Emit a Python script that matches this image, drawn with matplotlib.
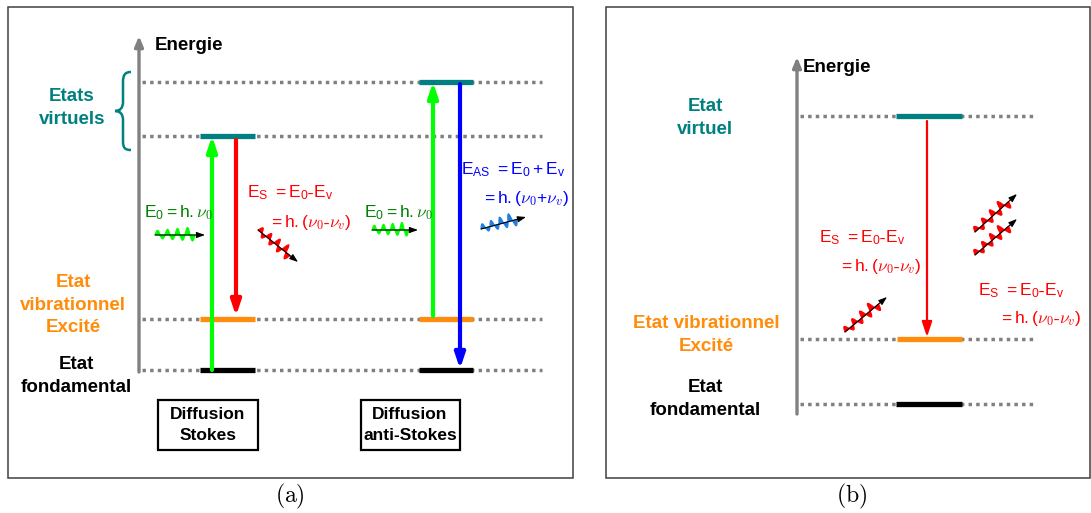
import numpy as np
import matplotlib
matplotlib.use("Agg")
import matplotlib.pyplot as plt
from matplotlib.path import Path
from matplotlib.patches import PathPatch, Rectangle, Polygon

plt.rcParams['mathtext.fontset'] = 'cm'

# ---------------- data (pixel layout of the diagram) ----------------
# panel (a)
a_levels_y = [82, 136, 319, 370]            # dotted level lines
a_level_x = (142, 542)
a_bars = [  # (x0, x1, y, color)
    (200, 255, 136, '#008080'), (419, 473, 82, '#008080'),
    (200, 255, 319, '#FF8C0A'), (419, 473, 319, '#FF8C0A'),
    (200, 255, 370, '#000000'), (419, 473, 370, '#000000'),
]
a_arrows = [  # (x, y_start, y_end, color)
    (212, 370, 136, '#00FF00'), (236, 140, 316, '#FF0000'),
    (433, 316, 82, '#00FF00'), (460, 84, 369, '#0000FF'),
]
# panel (b)
b_levels_y = [116, 339, 404]
b_level_x = (800, 1033)
b_bars = [(896, 962, 116, '#008080'), (897, 962, 339, '#FF8C0A'),
          (896, 962, 404, '#000000')]
b_arrows = [(927, 121, 337, '#FF0000')]

FONT_B = ['Liberation Sans', 'DejaVu Sans']

fig = plt.figure(figsize=(10.91, 5.13), dpi=100)
ax = fig.add_axes([0, 0, 1, 1])
ax.set_xlim(0, 1091)
ax.set_ylim(513, 0)
ax.axis('off')

# panel frames
ax.add_patch(Rectangle((8, 7), 565, 471, fill=False, ec='#404040', lw=1.1))
ax.add_patch(Rectangle((606, 7), 484, 471, fill=False, ec='#404040', lw=1.1))
ax.text(290, 496, r'$(\mathrm{a})$', ha='center', va='center', fontsize=17)
ax.text(852, 496, r'$(\mathrm{b})$', ha='center', va='center', fontsize=17)

DOT = dict(color='#808080', lw=2.5, linestyle=(0, (1.0, 1.2)), solid_capstyle='butt')


def energy_axis(x, y0, y1):
    ax.annotate('', xy=(x, y1), xytext=(x, y0),
                arrowprops=dict(arrowstyle='-|>,head_length=0.6,head_width=0.25',
                                color='#808080', lw=2.4, shrinkA=0, shrinkB=0))


def vline_arrow(x, y0, y1, color, lw):
    ax.annotate('', xy=(x, y1), xytext=(x, y0),
                arrowprops=dict(arrowstyle='-|>,head_length=0.9,head_width=0.3',
                                color=color, lw=lw, shrinkA=0, shrinkB=0))


def photon(x0, y0, x1, y1, color, n=4, amp=7.5, frac=0.8):
    p0 = np.array([x0, y0], float)
    p1 = np.array([x1, y1], float)
    d = p1 - p0
    L = np.hypot(*d)
    u = d / L
    nrm = np.array([u[1], -u[0]])
    Lw = frac * L
    t = np.linspace(0, Lw, 400)
    s = np.sin(2 * np.pi * n * t / Lw)
    off = np.where(s > 0, s, 0.75 * s)
    grow = 0.6 + 0.5 * t / Lw
    off = amp * grow * off
    curve = p0 + np.outer(t, u) + np.outer(off, nrm)
    base = p0 + np.outer(t[::-1], u)
    ax.add_patch(Polygon(np.vstack([curve, base]), closed=True, fc=color, ec=color, lw=0.8))
    ax.annotate('', xy=(x1, y1), xytext=(x0, y0),
                arrowprops=dict(arrowstyle='-|>,head_length=0.5,head_width=0.18',
                                color='black', lw=0.8, shrinkA=0, shrinkB=0))


def bold_text(x, y, s, color, size=13.5, ha='center'):
    ax.text(x, y, s, ha=ha, va='center', color=color, fontsize=size,
            fontweight='bold', family=FONT_B, linespacing=1.45)


def eq_text(x, y, s, color, size=12.5):
    ax.text(x, y, s, ha='left', va='center', color=color, fontsize=size,
            family=FONT_B)


# ---------------- panel (a) ----------------
for y in a_levels_y:
    ax.plot(a_level_x, [y, y], **DOT)
energy_axis(139, 372, 36)
for x0, x1, y, c in a_bars:
    ax.plot([x0, x1], [y, y], color=c, lw=3.8, solid_capstyle='butt')
for x, ys, ye, c in a_arrows:
    vline_arrow(x, ys, ye, c, 3.0)

bold_text(155, 46, 'Energie', 'black', ha='left')
bold_text(72, 108, 'Etats\nvirtuels', '#008080')
bold_text(73, 305, 'Etat\nvibrationnel\nExcité', '#FF8C0A')
bold_text(76, 376, 'Etat\nfondamental', 'black')

# brace
brace = Path([(131, 72), (125, 72), (123, 75), (123, 82),
              (123, 102),
              (123, 108), (120, 111), (115, 111),
              (120, 111), (123, 114), (123, 120),
              (123, 141),
              (123, 148), (125, 150), (131, 150)],
             [Path.MOVETO, Path.CURVE4, Path.CURVE4, Path.CURVE4,
              Path.LINETO,
              Path.CURVE4, Path.CURVE4, Path.CURVE4,
              Path.CURVE4, Path.CURVE4, Path.CURVE4,
              Path.LINETO,
              Path.CURVE4, Path.CURVE4, Path.CURVE4])
ax.add_patch(PathPatch(brace, fill=False, ec='#008080', lw=1.8))

# boxes
ax.add_patch(Rectangle((158, 400), 100, 50, fill=False, ec='black', lw=1.6))
ax.add_patch(Rectangle((361, 400), 99, 50, fill=False, ec='black', lw=1.6))
bold_text(208, 425, 'Diffusion\nStokes', 'black', size=12.5)
bold_text(410, 425, 'Diffusion\nanti-Stokes', 'black', size=12.5)

# equations (a)
eq_text(144, 213, r'$\mathregular{E_0 = h.}\nu_0$', '#008000')
photon(155, 235, 205, 235, '#00FF00')
eq_text(247, 193, r'$\mathregular{E_S\ =E_0\text{-}E_v}$', '#FF0000')
eq_text(268, 222, r'$\mathregular{=h.(}\nu_0\mathregular{\text{-}}\nu_v\mathregular{)}$', '#FF0000')
photon(258, 230, 298, 262, '#FF0000')

eq_text(364, 213, r'$\mathregular{E_0 = h.}\nu_0$', '#008000')
photon(372, 230, 418, 230, '#00FF00')
eq_text(461, 170, r'$\mathregular{E_{AS}\ =E_0+E_v}$', '#0000FF')
eq_text(481, 198, r'$\mathregular{=h.(}\nu_0\mathregular{+}\nu_v\mathregular{)}$', '#0000FF')
photon(481, 229, 526, 217, '#1E7FE0')

# ---------------- panel (b) ----------------
for y in b_levels_y:
    ax.plot(b_level_x, [y, y], **DOT)
energy_axis(797, 414, 57)
for x0, x1, y, c in b_bars:
    ax.plot([x0, x1], [y, y], color=c, lw=3.8, solid_capstyle='butt')
for x, ys, ye, c in b_arrows:
    vline_arrow(x, ys, ye, c, 1.6)

bold_text(803, 68, 'Energie', 'black', ha='left')
bold_text(705, 118, 'Etat\nvirtuel', '#008080')
bold_text(706, 335, 'Etat vibrationnel\nExcité', '#FF8C0A')
bold_text(705, 399, 'Etat\nfondamental', 'black')

eq_text(819, 238, r'$\mathregular{E_S\ =E_0\text{-}E_v}$', '#FF0000')
eq_text(838, 267, r'$\mathregular{=h.(}\nu_0\mathregular{\text{-}}\nu_v\mathregular{)}$', '#FF0000')
photon(845, 332, 887, 297, '#FF0000')

eq_text(978, 291, r'$\mathregular{E_S\ =E_0\text{-}E_v}$', '#FF0000')
eq_text(998, 319, r'$\mathregular{=h.(}\nu_0\mathregular{\text{-}}\nu_v\mathregular{)}$', '#FF0000')
photon(975, 232, 1017, 194, '#FF0000')
photon(975, 255, 1017, 219, '#FF0000')

fig.savefig('out.png', dpi=100)
